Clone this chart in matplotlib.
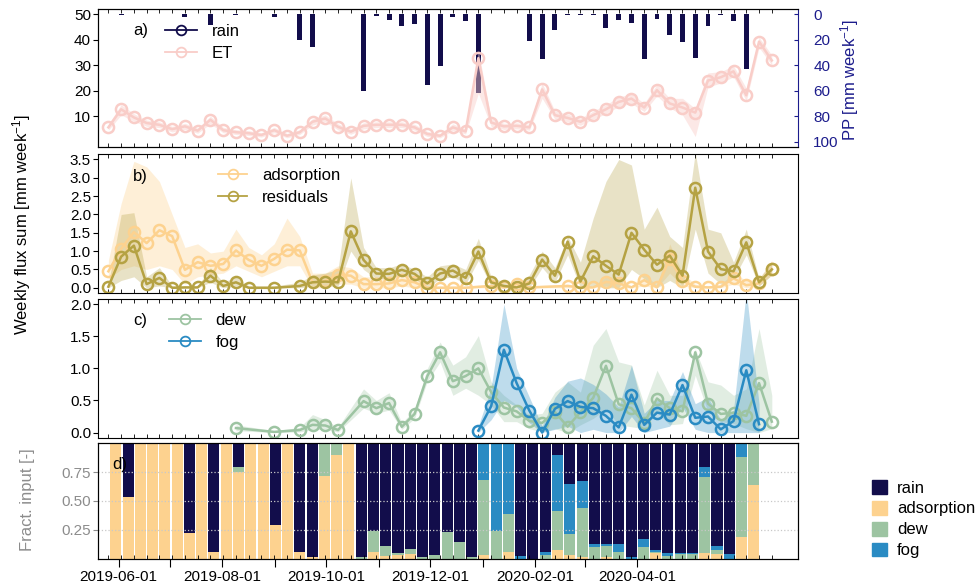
import numpy as np
import pandas as pd
import matplotlib
matplotlib.use("Agg")
import matplotlib.pyplot as plt
import matplotlib.dates as mdates
from matplotlib.lines import Line2D
from matplotlib.patches import Patch

plt.rcParams["font.family"] = ["Liberation Sans", "DejaVu Sans"]
plt.rcParams["mathtext.fontset"] = "custom"
plt.rcParams["mathtext.rm"] = "Liberation Sans"
plt.rcParams["mathtext.default"] = "regular"
plt.rcParams["font.size"] = 11

nan = np.nan

# %% data
start = pd.Timestamp("2019-05-26")
dates = start + pd.to_timedelta(np.arange(53) * 7.5, unit="D")
months = pd.date_range("2019-06-01", "2020-04-01", freq="MS")

rain = [0, 0.8, 0, 0, 0, 0, 2.3, 0, 8.3, 0, 0.5, 0, 0, 2.3, 0, 20.4, 25.9, 0, 0, 0,
        60.0, 1.5, 4.4, 9.0, 7.5, 55.6, 40.6, 2.3, 5.0, 61.8, 0, 0, 0, 21.2, 34.9, 12.2,
        0.5, 0.5, 0.5, 10.4, 4.4, 7.0, 35.4, 3.6, 16.0, 22.0, 34.1, 9.0, 0.5, 5.2, 42.6, 0, 0]

et = [5.6, 12.7, 9.5, 7.3, 6.6, 4.9, 6.0, 4.3, 8.6, 4.5, 3.7, 3.3, 2.6, 4.5, 2.3, 3.7,
      7.8, 9.1, 5.8, 3.9, 6.2, 6.6, 6.6, 6.6, 5.6, 3.0, 2.3, 5.6, 4.0, 32.8, 7.5, 6.0,
      6.2, 5.6, 20.5, 10.4, 9.3, 7.8, 10.4, 12.7, 15.6, 16.9, 13.4, 20.2, 15.0, 13.4,
      11.4, 24.0, 25.3, 27.6, 18.2, 39.3, 31.9]
et_lo = [4.5, 10.5, 8.0, 6.0, 5.5, 3.8, 4.8, 3.3, 7.0, 3.5, 2.8, 2.4, 1.8, 3.5, 1.5, 2.8,
         6.5, 7.8, 4.6, 2.9, 5.0, 5.5, 5.5, 5.5, 4.5, 2.0, 1.5, 4.3, 3.0, 19.0, 6.0, 4.8,
         5.0, 4.5, 17.0, 8.8, 7.8, 6.4, 8.8, 11.0, 13.8, 15.0, 11.8, 18.0, 13.2, 10.5,
         2.0, 21.5, 23.0, 25.5, 16.0, 37.0, 30.0]
et_hi = [6.8, 14.5, 11.0, 8.5, 7.8, 6.0, 7.2, 5.3, 10.0, 5.6, 4.7, 4.3, 3.5, 5.6, 3.2, 4.7,
         9.0, 10.5, 7.0, 5.0, 7.4, 7.8, 7.8, 7.8, 6.8, 4.0, 3.2, 7.0, 5.0, 36.0, 9.0, 7.2,
         7.4, 6.8, 23.0, 12.0, 10.8, 9.2, 12.0, 14.5, 17.5, 18.8, 15.0, 22.5, 17.0, 17.0,
         13.0, 27.0, 27.5, 29.8, 21.0, 41.0, 34.0]

ads = [0.45, 1.06, 1.52, 1.22, 1.57, 1.41, 0.49, 0.70, 0.60, 0.65, 1.02, 0.76, 0.60,
       0.79, 1.04, 1.02, 0.15, 0.19, 0.36, 0.33, 0.10, 0.10, 0.12, 0.21, 0.15, 0.0, 0.0,
       0.0, 0.0, nan, 0.05, 0.01, 0.10, 0.01, nan, nan, 0.05, 0.01, 0.01, 0.16, 0.12,
       0.01, 0.21, 0.01, 0.79, 0.19, 0.03, 0.01, 0.03, 0.26, 0.07, 0.12, 0.51]
ads_lo = [0.25, 0.5, 0.6, 0.5, 0.6, 0.5, 0.1, 0.3, 0.35, 0.4, 0.6, 0.45, 0.3, 0.45, 0.6,
          0.6, 0.0, 0.0, 0.1, 0.1, 0.0, 0.0, 0.0, 0.05, 0.0, 0.0, 0.0, 0.0, 0.0, nan, 0.0,
          0.0, 0.0, 0.0, nan, nan, 0.0, 0.0, 0.0, 0.05, 0.0, 0.0, 0.05, 0.0, 0.4, 0.05,
          0.0, 0.0, 0.0, 0.1, 0.0, 0.05, 0.35]
ads_hi = [0.75, 2.3, 3.45, 3.3, 2.9, 2.0, 1.1, 1.2, 0.95, 1.0, 1.6, 1.1, 0.9, 1.2, 1.9,
          1.4, 0.4, 0.4, 0.6, 0.55, 0.3, 0.3, 0.3, 0.4, 0.3, 0.05, 0.05, 0.05, 0.05, nan,
          0.1, 0.05, 0.2, 0.05, nan, nan, 0.1, 0.05, 0.05, 0.3, 0.3, 0.05, 0.4, 0.05, 1.2,
          0.4, 0.1, 0.05, 0.1, 0.4, 0.2, 0.25, 0.75]

res = [0.03, 0.85, 1.15, 0.10, 0.27, 0.0, 0.01, 0.01, 0.33, 0.05, 0.15, 0.0, nan, 0.0,
       nan, 0.05, 0.15, 0.17, 0.15, 1.54, 0.76, 0.39, 0.38, 0.49, 0.38, 0.12, 0.39, 0.47,
       0.27, 0.99, 0.15, 0.05, 0.01, 0.12, 0.77, 0.33, 1.26, 0.17, 0.86, 0.60, 0.36, 1.50,
       1.04, 0.63, 0.88, 0.33, 2.73, 0.99, 0.51, 0.45, 1.24, 0.15, 0.50]
res_lo = [0.0, 0.2, 0.3, 0.0, 0.05, 0.0, 0.0, 0.0, 0.15, 0.0, 0.05, 0.0, nan, 0.0, nan,
          0.0, 0.05, 0.05, 0.05, 1.0, 0.5, 0.25, 0.25, 0.35, 0.25, 0.0, 0.25, 0.3, 0.1,
          0.75, 0.05, 0.0, 0.0, 0.0, 0.55, 0.15, 0.9, 0.0, 0.05, 0.0, 0.0, 0.5, 0.25, 0.0,
          0.2, 0.0, 1.6, 0.4, 0.1, 0.25, 0.9, 0.05, 0.35]
res_hi = [0.1, 2.0, 2.05, 0.3, 0.55, 0.05, 0.05, 0.05, 0.55, 0.15, 0.3, 0.05, nan, 0.05,
          nan, 0.15, 0.35, 0.4, 0.5, 3.0, 1.1, 0.55, 0.55, 0.65, 0.5, 0.3, 0.6, 0.65, 0.5,
          1.35, 0.3, 0.15, 0.05, 0.35, 1.0, 0.55, 1.4, 0.7, 1.9, 2.9, 3.5, 3.35, 1.6, 2.2,
          1.4, 1.1, 3.7, 1.6, 1.5, 0.7, 1.6, 0.25, 0.7]

dew = [nan] * 10 + [0.07, nan, nan, 0.01, nan, 0.04, 0.12, 0.11, 0.04, nan, 0.49, 0.38,
       0.46, 0.09, 0.29, 0.88, 1.25, 0.80, 0.88, 1.0, 0.63, 0.39, 0.33, 0.18, 0.15, 0.32,
       0.09, 0.32, 0.54, 1.04, 0.44, 0.38, 0.15, 0.53, 0.38, 0.33, 1.25, 0.45, 0.29, 0.31,
       0.26, 0.77, 0.17]
dew_lo = [nan] * 10 + [0.03, nan, nan, 0.0, nan, 0.01, 0.05, 0.05, 0.01, nan, 0.38, 0.3,
          0.35, 0.05, 0.22, 0.8, 1.1, 0.58, 0.69, 0.58, 0.43, 0.17, 0.17, 0.06, 0.01, 0.06,
          0.0, 0.12, 0.22, 0.37, 0.12, 0.09, 0.06, 0.32, 0.12, 0.14, 0.89, 0.32, 0.17, 0.14,
          0.06, 0.0, 0.06]
dew_hi = [nan] * 10 + [0.12, nan, nan, 0.03, nan, 0.08, 0.28, 0.2, 0.08, nan, 0.68, 0.5,
          0.62, 0.15, 0.36, 1.0, 1.41, 1.05, 1.18, 1.51, 0.79, 0.58, 0.43, 0.27, 0.30, 0.63,
          0.79, 0.63, 1.36, 1.62, 1.10, 1.05, 0.43, 0.97, 0.58, 0.58, 1.30, 0.79, 0.74, 0.58,
          0.68, 1.62, 0.58]

fog = [nan] * 29 + [0.03, 0.41, 1.29, 0.77, 0.34, 0.0, 0.37, 0.49, 0.40, 0.38, 0.26, 0.08,
       0.59, 0.12, 0.31, 0.28, 0.74, 0.23, 0.25, 0.05, 0.18, 0.97, 0.13, nan]
fog_lo = [nan] * 29 + [0.0, 0.2, 0.5, 0.4, 0.15, 0.0, 0.05, 0.1, 0.0, 0.05, 0.0, 0.0, 0.25,
          0.0, 0.05, 0.1, 0.4, 0.05, 0.0, 0.0, 0.0, 0.0, 0.0, nan]
fog_hi = [nan] * 29 + [0.1, 0.7, 2.0, 1.0, 0.55, 0.1, 0.55, 0.8, 0.85, 0.75, 0.6, 0.4, 1.05,
          0.3, 0.5, 0.5, 0.95, 0.45, 0.55, 0.2, 0.35, 2.2, 0.45, nan]

# fractions of weekly input
f_ads = [1.0, 0.53, 1.0, 1.0, 1.0, 1.0, 0.22, 1.0, 0.06, 1.0, 0.75, 1.0, 1.0, 0.29, 1.0,
         0.06, 0.015, 0.72, 0.90, 1.0, 0.0, 0.06, 0.02, 0.03, 0.04, 0.0, 0.0, 0.0, 0.0,
         0.0, 0.03, 0.0, 0.06, 0.0, 0.0, 0.0, 0.07, 0.03, 0.01, 0.0, 0.01, 0.0, 0.0, 0.0,
         0.05, 0.0, 0.0, 0.0, 0.05, 0.04, 0.0, 0.19, 0.64]
f_dew = [0, 0, 0, 0, 0, 0, 0, 0, 0, 0, 0.04, 0, 0, 0, 0, 0, 0, 0.28, 0.10, 0, 0.01,
         0.175, 0.09, 0.02, 0.045, 0.01, 0.03, 0.23, 0.14, 0.01, 0.65, 0.24, 0.33, 0.0, 0.0,
         0.03, 0.34, 0.18, 0.43, 0.10, 0.10, 0.06, 0.0, 0.10, 0.01, 0.025, 0.04, 0.04, 0.66,
         0.035, 0.0, 0.69, 0.36]
f_fog = [0] * 30 + [0.32, 0.76, 0.61, 0.02, 0.0, 0.03, 0.49, 0.44, 0.23, 0.03, 0.02, 0.07,
         0.01, 0.07, 0.015, 0.02, 0.012, 0.012, 0.08, 0.035, 0.04, 0.12, 0.0]
f_rain = [0, 0.47, 0, 0, 0, 0, 0.78, 0, 0.94, 0, 0.21, 0, 0, 0.71, 0, 0.94, 0.985, 0, 0,
          0, 0.99, 0.765, 0.89, 0.95, 0.915, 0.99, 0.97, 0.77, 0.86, 0.99, 0.0, 0.0, 0.0,
          0.98, 1.0, 0.94, 0.10, 0.35, 0.33, 0.87, 0.87, 0.87, 0.99, 0.83, 0.925, 0.955,
          0.948, 0.948, 0.21, 0.89, 0.96, 0.0, 0.0]

RAIN_C = "#120d4b"
ET_C = "#f9cdc8"
ADS_C = "#fdd28f"
RES_C = "#b5a243"
DEW_C = "#9dc4a2"
FOG_C = "#2a8bc3"
PP_C = "#1c1c8c"
GREY = "#8c8c8c"
W, H = 978, 588


def box(top, bottom):
    """axes rectangle from pixel rows of the target layout"""
    return [98 / W, 1 - bottom / H, 700 / W, (bottom - top) / H]


def series(ax, y, lo, hi, color, alpha):
    """band plus line with open circles, gaps bridged like the original"""
    y, lo, hi = (np.asarray(v, dtype=float) for v in (y, lo, hi))
    m = ~np.isnan(y)
    ax.fill_between(x[m], lo[m], hi[m], color=color, alpha=alpha, lw=0)
    ax.plot(x[m], y[m], color=color, lw=1.8, marker="o", ms=8, mfc="none", mew=1.8)


def legend_at(ax, names, colors, left, top, hl):
    handles = [Line2D([0], [0], color=c, lw=1.3, marker="o", ms=7, mfc="none", mew=1.3)
               for c in colors]
    ax.legend(handles, names, loc="upper left", bbox_to_anchor=(left / W, 1 - top / H),
              bbox_transform=fig.transFigure, frameon=False, fontsize=12, borderpad=0,
              borderaxespad=0, handlelength=hl, handletextpad=0.9, labelspacing=0.42)


x = mdates.date2num(dates)

fig = plt.figure(figsize=(W / 100, H / 100), dpi=100)
ax_a = fig.add_axes(box(9.3, 146.7))
ax_r = ax_a.twinx()
ax_b = fig.add_axes(box(154, 293.3), sharex=ax_a)
ax_c = fig.add_axes(box(299, 437.7), sharex=ax_a)
ax_d = fig.add_axes(box(443.3, 558.5))
ax_t = ax_d.twiny()
ax_t.sharex(ax_a)

# a) rain (right, inverted) and ET
ax_r.bar(x, rain, width=2.9, color=RAIN_C)
ax_r.set_ylim(104, -4)
ax_r.set_yticks(range(0, 101, 20))
ax_r.tick_params(axis="y", colors=PP_C, direction="in", length=3, pad=11, labelsize=11)
ax_r.spines["right"].set_color(PP_C)
ax_r.set_zorder(ax_a.get_zorder() - 1)
ax_a.patch.set_visible(False)
ax_a.spines["right"].set_visible(False)
series(ax_a, et, et_lo, et_hi, ET_C, 0.45)
ax_a.set_ylim(-2, 52)
ax_a.set_yticks(range(10, 51, 10))
legend_at(ax_a, ["rain", "ET"], [RAIN_C, ET_C], 165, 24.3, 1.9)

# b) adsorption and residuals
series(ax_b, ads, ads_lo, ads_hi, ADS_C, 0.35)
series(ax_b, res, res_lo, res_hi, RES_C, 0.3)
ax_b.set_ylim(-0.15, 3.65)
ax_b.set_yticks(np.arange(0, 3.6, 0.5))
ax_b.yaxis.set_major_formatter("{x:.1f}")
legend_at(ax_b, ["adsorption", "residuals"], [ADS_C, RES_C], 218, 168.3, 1.75)

# c) dew and fog
series(ax_c, dew, dew_lo, dew_hi, DEW_C, 0.3)
series(ax_c, fog, fog_lo, fog_hi, FOG_C, 0.3)
ax_c.set_ylim(-0.08, 2.08)
ax_c.set_yticks(np.arange(0, 2.1, 0.5))
ax_c.yaxis.set_major_formatter("{x:.1f}")
legend_at(ax_c, ["dew", "fog"], [DEW_C, FOG_C], 169, 313.3, 1.9)

ax_a.set_xlim(x[0] - 6.1, x[0] + 405.4)
ax_a.set_xticks(x, minor=True)
ax_a.set_xticks(mdates.date2num(months),
                labels=[m.strftime("%Y-%m-%d") if k % 2 == 0 else ""
                        for k, m in enumerate(months)])
for ax in (ax_a, ax_b, ax_c):
    ax.tick_params(axis="x", which="minor", direction="in", top=True, bottom=True, length=3)
    ax.tick_params(axis="x", which="major", length=0, labelbottom=False)
    ax.tick_params(axis="y", direction="out", length=3.5, pad=1.5, labelsize=11)

# d) fractions of input
idx = np.arange(len(f_ads))
bottom = np.zeros(len(idx))
for vals, c in [(f_ads, ADS_C), (f_dew, DEW_C), (f_fog, FOG_C), (f_rain, RAIN_C)]:
    ax_d.bar(idx, vals, bottom=bottom, width=0.9, color=c, lw=0)
    bottom += np.asarray(vals)
ax_d.set_xlim(-1.45, 55.6)
ax_d.set_ylim(0, 1)
ax_d.set_yticks([0.25, 0.5, 0.75])
ax_d.yaxis.set_major_formatter("{x:.2f}")
ax_d.tick_params(axis="y", colors=GREY, labelcolor=GREY, direction="out", length=3.5,
                 pad=1.5, labelsize=11)
ax_d.tick_params(axis="x", bottom=False, labelbottom=False)
ax_d.set_axisbelow(False)
ax_d.yaxis.grid(True, ls=":", color="#c8c8c8", lw=0.9)

ax_t.tick_params(axis="x", which="minor", direction="in", bottom=True, top=False, length=3)
ax_t.tick_params(axis="x", which="major", direction="out", bottom=True, top=False,
                 length=6, labelbottom=True, labeltop=False, labelsize=11, pad=2)

fig.text(133 / W, 1 - 31 / H, "a)", va="center", fontsize=12)
fig.text(133 / W, 1 - 176 / H, "b)", va="center", fontsize=12)
fig.text(133 / W, 1 - 320 / H, "c)", va="center", fontsize=12)
fig.text(112 / W, 1 - 465 / H, "d)", va="center", fontsize=12)

fig.text(22 / W, 1 - 225 / H, "Weekly flux sum [mm week$^{-1}$]", rotation=90,
         ha="center", va="center", fontsize=12)
fig.text(850 / W, 1 - 80 / H, "PP [mm week$^{-1}$]", rotation=90, ha="center",
         va="center", fontsize=12, color=PP_C)
fig.text(28 / W, 1 - 500 / H, "Fract. input [-]", rotation=90, ha="center",
         va="center", fontsize=12, color=GREY)

fig.legend([Patch(color=c) for c in (RAIN_C, ADS_C, DEW_C, FOG_C)],
           ["rain", "adsorption", "dew", "fog"], loc="upper left",
           bbox_to_anchor=(872 / W, 1 - 480 / H), frameon=False, fontsize=12,
           borderpad=0, borderaxespad=0, handlelength=0.9, handleheight=0.9,
           handletextpad=0.6, labelspacing=0.31)

fig.savefig("out.png", dpi=100)
